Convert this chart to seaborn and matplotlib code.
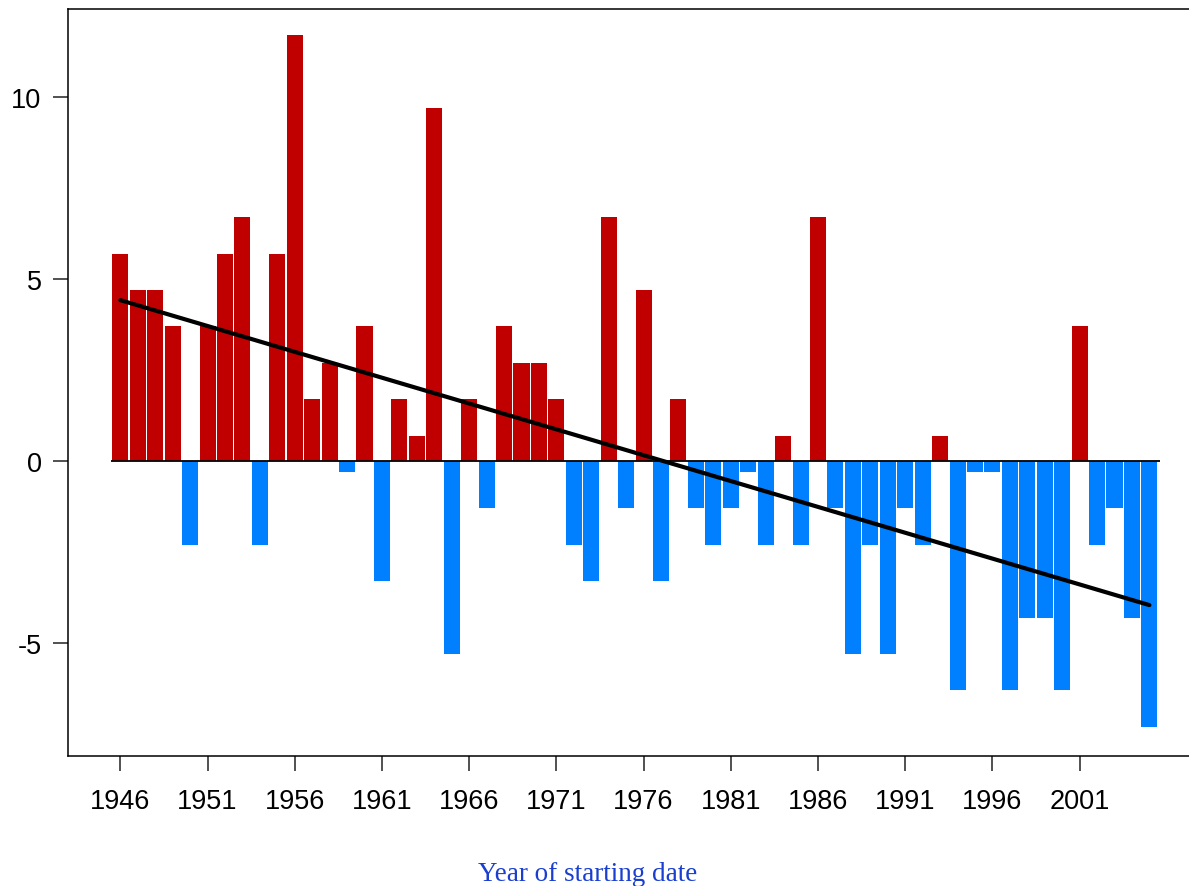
import numpy as np
import pandas as pd
import matplotlib
matplotlib.use("Agg")
import matplotlib.pyplot as plt
import seaborn as sns

# Yearly anomalies, 1946-2005
years = list(range(1946, 2006))
anomaly = [
    5.7, 4.7, 4.7, 3.7, -2.3, 3.7, 5.7, 6.7, -2.3, 5.7,
    11.7, 1.7, 2.7, -0.3, 3.7, -3.3, 1.7, 0.7, 9.7, -5.3,
    1.7, -1.3, 3.7, 2.7, 2.7, 1.7, -2.3, -3.3, 6.7, -1.3,
    4.7, -3.3, 1.7, -1.3, -2.3, -1.3, -0.3, -2.3, 0.7, -2.3,
    6.7, -1.3, -5.3, -2.3, -5.3, -1.3, -2.3, 0.7, -6.3, -0.3,
    -0.3, -6.3, -4.3, -4.3, -6.3, 3.7, -2.3, -1.3, -4.3, -7.3,
]
tick_years = [1946, 1951, 1956, 1961, 1966, 1971, 1976, 1981, 1986, 1991, 1996, 2001]
y_ticks = [-5, 0, 5, 10]
x_title = "Year of starting date"

pos_color = "#C00000"
neg_color = "#0080FF"

sns.set_style("ticks")
plt.rcParams["font.family"] = ["Liberation Sans", "DejaVu Sans"]

df = pd.DataFrame({"year": years, "value": anomaly})
df["sign"] = np.where(df["value"] >= 0, "pos", "neg")

fig = plt.figure(figsize=(11.89, 8.87), dpi=100)
ax = fig.add_axes([68 / 1189, 130 / 887, 1 - 68 / 1189, 747 / 887])

sns.barplot(data=df, x="year", y="value", hue="sign", native_scale=True,
            palette={"pos": pos_color, "neg": neg_color}, dodge=False,
            saturation=1, width=0.92, legend=False, ax=ax,
            edgecolor="none", linewidth=0)

# baseline spanning the bars
ax.hlines(0, years[0] - 0.55, years[-1] + 0.6, color="black", lw=1.3, zorder=3)

# linear trend over the record
sns.regplot(data=df, x="year", y="value", scatter=False, ci=None, truncate=True,
            color="black", line_kws={"lw": 3.0, "solid_capstyle": "round", "zorder": 4}, ax=ax)

ax.set_xlim(1943.0, 2007.27)
ax.set_ylim(-8.1, 12.42)
ax.set_xticks(tick_years)
ax.set_xticklabels([str(t) for t in tick_years])
ax.set_yticks(y_ticks)
ax.set_yticklabels([str(t) for t in y_ticks])
ax.tick_params(axis="both", length=11, width=1.1, color="#222222",
               labelsize=19.5, labelcolor="black")
ax.tick_params(axis="x", pad=12)
ax.tick_params(axis="y", pad=8)

for side in ["left", "bottom", "top"]:
    ax.spines[side].set_visible(True)
    ax.spines[side].set_linewidth(1.1)
    ax.spines[side].set_color("black")
ax.spines["right"].set_visible(False)

ax.set_xlabel("")
ax.set_ylabel("")
fig.text(588 / 1189, 1 - 881 / 887, x_title, ha="center", va="baseline",
         fontsize=19.5, color="#1A3FD0", family=["Liberation Serif", "DejaVu Serif"])

fig.savefig("out.png", dpi=100)
